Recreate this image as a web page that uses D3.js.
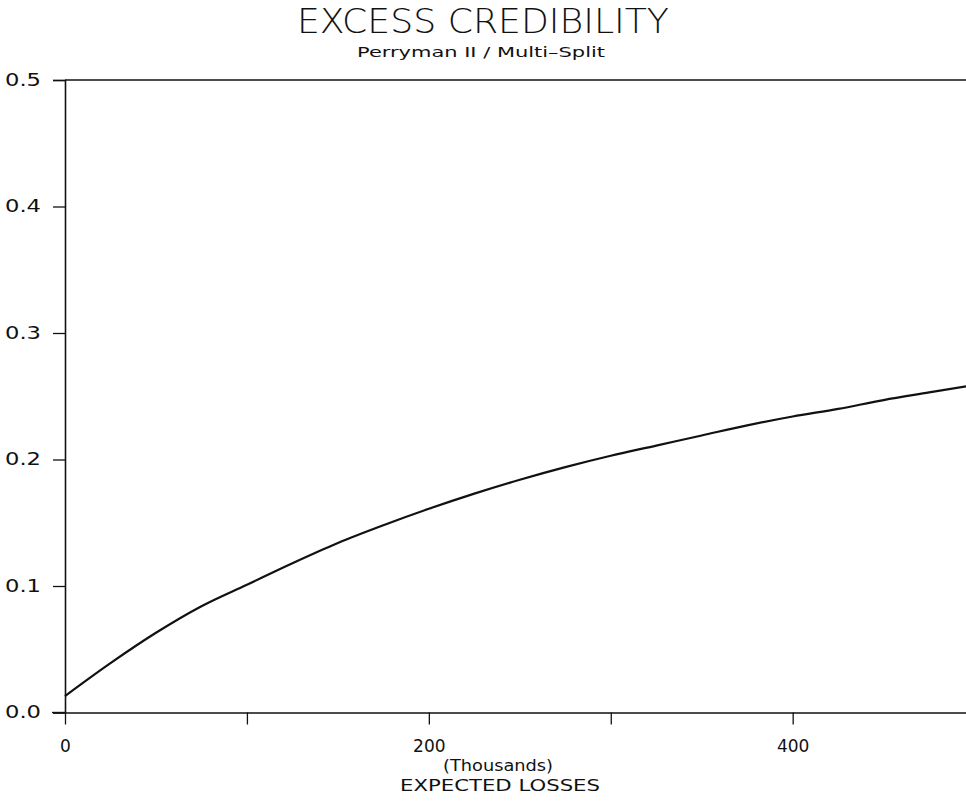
<!DOCTYPE html>
<html>
<head>
<meta charset="utf-8">
<script src="https://cdn.jsdelivr.net/npm/d3@7"></script>
<style>
  html, body { margin: 0; padding: 0; background: #fff; }
  svg { display: block; }
  text { font-family: "DejaVu Sans", sans-serif; fill: #111; }
</style>
</head>
<body>
<script>
// Expected losses (thousands) and excess credibility
const losses = [0, 25, 50, 75, 100, 125, 150, 175, 200, 225, 250, 275, 300, 325, 350, 375, 400, 425, 450, 475, 500];
const credibility = [0.013, 0.039, 0.063, 0.084, 0.101, 0.118, 0.134, 0.148, 0.161, 0.173, 0.184, 0.194, 0.203, 0.211, 0.219, 0.227, 0.234, 0.240, 0.247, 0.253, 0.259];
const xTicks = [0, 100, 200, 300, 400];
const xTickLabels = ["0", "", "200", "", "400"];
const yTicks = [0.0, 0.1, 0.2, 0.3, 0.4, 0.5];
const yTickLabels = ["0.0", "0.1", "0.2", "0.3", "0.4", "0.5"];

const W = 966, H = 804;
const svg = d3.select("body").append("svg").attr("width", W).attr("height", H);

const x = d3.scaleLinear().domain([0, 500]).range([65, 974.6]);
const y = d3.scaleLinear().domain([0, 0.5]).range([712.5, 80]);

// Titles
svg.append("text").attr("x", 483).attr("y", 33)
  .attr("text-anchor", "middle").attr("font-size", 34).attr("font-weight", 200)
  .attr("textLength", 372).attr("lengthAdjust", "spacingAndGlyphs")
  .text("EXCESS CREDIBILITY");
svg.append("text").attr("x", 481).attr("y", 57)
  .attr("text-anchor", "middle").attr("font-size", 14)
  .attr("textLength", 248).attr("lengthAdjust", "spacingAndGlyphs")
  .text("Perryman II / Multi\u2013Split");

// Y axis: ticks point outward to the left
const yAxis = d3.axisLeft(y).tickValues(yTicks).tickSize(12)
  .tickFormat((d, i) => yTickLabels[i]).tickPadding(12);
const gy = svg.append("g").attr("transform", `translate(${x(0)},0)`).call(yAxis);
gy.select(".domain").attr("stroke", "#111").attr("stroke-width", 1.6);
gy.selectAll(".tick line").attr("stroke", "#111").attr("stroke-width", 1.3);
gy.selectAll(".tick text").attr("font-size", 17).attr("font-family", "DejaVu Sans, sans-serif")
  .attr("fill", "#111").attr("textLength", 36).attr("lengthAdjust", "spacingAndGlyphs");

// Top frame line at 0.5
svg.append("line").attr("x1", x(0)).attr("x2", W).attr("y1", y(0.5)).attr("y2", y(0.5))
  .attr("stroke", "#111").attr("stroke-width", 1.4);

// X axis: ticks downward, labels on alternate ticks
const xAxis = d3.axisBottom(x).tickValues(xTicks).tickSize(12).tickSizeOuter(0)
  .tickFormat((d, i) => xTickLabels[i]).tickPadding(15);
const gx = svg.append("g").attr("transform", `translate(0,${y(0)})`).call(xAxis);
gx.select(".domain").attr("stroke", "#111").attr("stroke-width", 1.4);
gx.selectAll(".tick line").attr("stroke", "#111").attr("stroke-width", 1.3);
gx.selectAll(".tick text").attr("font-size", 17).attr("font-family", "DejaVu Sans, sans-serif").attr("fill", "#111");
// extend the zero line a little left of the y axis
svg.append("line").attr("x1", 52).attr("x2", x(0)).attr("y1", y(0)).attr("y2", y(0))
  .attr("stroke", "#111").attr("stroke-width", 1.4);

// Axis titles
svg.append("text").attr("x", 498).attr("y", 771).attr("text-anchor", "middle")
  .attr("font-size", 16).attr("textLength", 110).attr("lengthAdjust", "spacingAndGlyphs")
  .text("(Thousands)");
svg.append("text").attr("x", 500).attr("y", 791).attr("text-anchor", "middle")
  .attr("font-size", 15).attr("textLength", 200).attr("lengthAdjust", "spacingAndGlyphs")
  .text("EXPECTED LOSSES");

// Curve
const line = d3.line().x((d, i) => x(losses[i])).y(d => y(d)).curve(d3.curveMonotoneX);
svg.append("path").datum(credibility).attr("d", line)
  .attr("fill", "none").attr("stroke", "#111").attr("stroke-width", 2.2);
</script>
</body>
</html>
